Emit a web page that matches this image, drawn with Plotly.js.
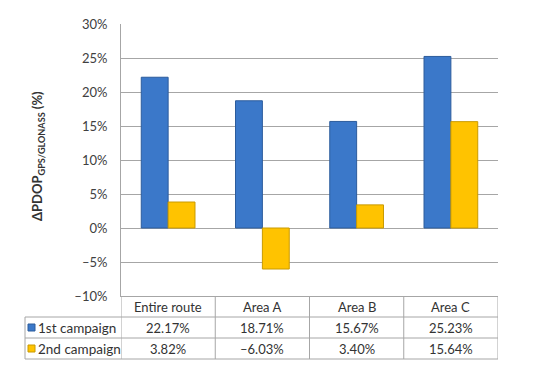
<!DOCTYPE html>
<html>
<head>
<meta charset="utf-8">
<script src="https://cdn.plot.ly/plotly-3.0.1.min.js"></script>
<style>html,body{margin:0;padding:0;background:#fff;}#chart{width:550px;height:371px;}</style>
</head>
<body>
<div id="chart"></div>
<script>
const categories = ['Entire route', 'Area A', 'Area B', 'Area C'];
const seriesNames = ['1st campaign', '2nd campaign'];
const campaign1 = [22.17, 18.71, 15.67, 25.23];
const campaign2 = [3.82, -6.03, 3.40, 15.64];
const tickVals = [-10, -5, 0, 5, 10, 15, 20, 25, 30];
const tickText = ['\u201310%', '\u20135%', '0%', '5%', '10%', '15%', '20%', '25%', '30%'];

const W = 550, H = 371;
const M = {l: 121, r: 52, t: 24, b: 75};
const PW = W - M.l - M.r, PH = H - M.t - M.b;
const px2x = x => (x - M.l) / PW;
const px2y = y => (H - M.b - y) / PH;

const fillColors = ['#3b78c9', '#ffc300'];
const edgeColors = ['#2c5c9c', '#c99a00'];
const gridColor = '#a6a6a6';
const textColor = '#333333';
const FONT = 'Lato, "Liberation Sans", sans-serif';

const fmt = v => (v < 0 ? '\u2013' : '') + Math.abs(v).toFixed(2) + '%';

const allSeries = [campaign1, campaign2];
const traces = allSeries.map((vals, i) => ({
  type: 'bar',
  name: seriesNames[i],
  x: categories,
  y: vals,
  marker: {color: fillColors[i], line: {color: edgeColors[i], width: 1}},
  hoverinfo: 'x+y'
}));

const shapes = [];
const annotations = [];
const line = (x0, y0, x1, y1, xref) => shapes.push({
  type: 'line', xref: xref || 'paper', yref: 'paper',
  x0: x0, y0: y0, x1: x1, y1: y1,
  line: {color: gridColor, width: 1}
});

// table geometry (pixels)
const rowTop = 296, rowH = 21;
const legendLeft = 25;
// vertical lines at category boundaries
for (let i = 0; i <= categories.length; i++) {
  line(i - 0.5, px2y(rowTop), i - 0.5, px2y(rowTop + 3 * rowH), 'x');
}
// horizontal lines for series rows
for (let r = 1; r <= 3; r++) {
  line(px2x(legendLeft), px2y(rowTop + r * rowH), 1, px2y(rowTop + r * rowH));
}
line(px2x(legendLeft), px2y(rowTop + rowH), px2x(legendLeft), px2y(rowTop + 3 * rowH));

// header labels
categories.forEach((c, i) => {
  annotations.push({
    xref: 'x', yref: 'paper', x: c, y: px2y(rowTop + rowH / 2 + 0.5),
    text: c, showarrow: false, xanchor: 'center', yanchor: 'middle',
    font: {family: FONT, size: 13, color: textColor}
  });
});
// series rows
allSeries.forEach((vals, s) => {
  const yc = rowTop + rowH * (s + 1) + rowH / 2 + 0.5;
  vals.forEach((v, i) => {
    annotations.push({
      xref: 'x', yref: 'paper', x: categories[i], y: px2y(yc),
      text: fmt(v), showarrow: false, xanchor: 'center', yanchor: 'middle',
      font: {family: FONT, size: 13, color: textColor}
    });
  });
  annotations.push({
    xref: 'paper', yref: 'paper', x: px2x(36), y: px2y(yc),
    text: seriesNames[s], showarrow: false, xanchor: 'left', yanchor: 'middle',
    font: {family: FONT, size: 13.5, color: textColor}
  });
  shapes.push({
    type: 'rect', xref: 'paper', yref: 'paper',
    x0: px2x(28), x1: px2x(35), y0: px2y(yc - 0.5 - 3.5), y1: px2y(yc - 0.5 + 3.5),
    fillcolor: fillColors[s], line: {color: edgeColors[s], width: 1}
  });
});

// y-axis title
annotations.push({
  xref: 'paper', yref: 'paper', x: px2x(38), y: px2y(156),
  text: '<b>\u0394PDOP<sub>GPS/GLONASS</sub> (%)</b>', showarrow: false,
  textangle: -90, xanchor: 'center', yanchor: 'middle',
  font: {family: FONT, size: 13, color: textColor}
});

const layout = {
  width: W, height: H,
  margin: M,
  paper_bgcolor: '#ffffff', plot_bgcolor: '#ffffff',
  showlegend: false,
  barmode: 'group', bargap: 0.43, bargroupgap: 0,
  font: {family: FONT, color: textColor},
  xaxis: {
    type: 'category', range: [-0.5, categories.length - 0.5],
    showticklabels: false, showgrid: false, zeroline: false,
    showline: true, linecolor: gridColor, linewidth: 1, fixedrange: true
  },
  yaxis: {
    range: [-10, 30], tickvals: tickVals, ticktext: tickText,
    showgrid: true, gridcolor: gridColor, gridwidth: 1,
    zeroline: false, showline: true, linecolor: gridColor, linewidth: 1,
    ticks: '', ticklabelstandoff: 10,
    tickfont: {family: FONT, size: 13, color: '#404040'}, fixedrange: true
  },
  shapes: shapes,
  annotations: annotations
};

Plotly.newPlot('chart', traces, layout, {displayModeBar: false, staticPlot: true});
</script>
</body>
</html>
